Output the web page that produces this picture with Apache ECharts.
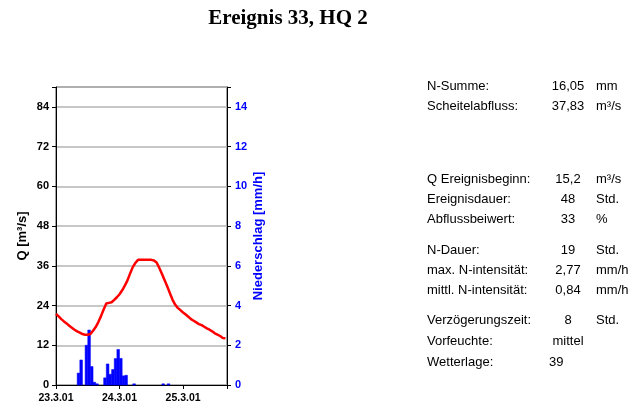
<!DOCTYPE html>
<html>
<head>
<meta charset="utf-8">
<script src="https://cdn.jsdelivr.net/npm/echarts@6/dist/echarts.min.js"></script>
<style>
html,body{margin:0;padding:0;background:#fff;}
#c{width:643px;height:413px;}
</style>
</head>
<body>
<div id="c"></div>
<script>
// ---- data ----
const titleText = 'Ereignis 33, HQ 2';
const dateLabels = ['23.3.01', '24.3.01', '25.3.01'];
const qTicks = [0, 12, 24, 36, 48, 60, 72, 84];
const nTicks = [0, 2, 4, 6, 8, 10, 12, 14];
// discharge Q [m³/s], hourly from 23.3.01 00:00
const qHours = [0,1,2,3,4,5,6,7,8,9,10,11,12,13,14,15,16,17,18,19,20,21,22,23,24,25,26,27,28,29,30,31,32,33,34,35,36,37,38,39,40,41,42,43,44,45,46,47,48,49,50,51,52,53,54,55,56,57,58,59,60,61,62,63,64];
const qValues = [21.5,20.7,19.9,19.2,18.6,17.9,17.3,16.7,16.2,15.8,15.4,15.2,15.2,15.4,16.4,17.5,19.0,20.8,22.8,24.6,24.8,25.0,25.7,26.5,27.4,28.6,30.0,31.6,33.7,35.6,36.9,37.8,37.8,37.8,37.8,37.8,37.8,37.6,37.0,35.4,33.6,31.7,29.8,27.8,25.8,24.3,23.3,22.6,21.9,21.3,20.6,19.9,19.4,18.9,18.4,18.1,17.6,17.1,16.7,16.2,15.6,15.2,14.8,14.2,14.1];
// precipitation [mm/h], hour of start (each bar covers one hour)
const nHours = [8,9,11,12,13,14,15,18,19,20,21,22,23,24,25,26,29,40,42];
const nValues = [0.60,1.26,2.00,2.77,0.93,0.14,0.06,0.36,1.06,0.54,0.78,1.33,1.79,1.34,0.46,0.49,0.06,0.06,0.06];
// info table
const infoLabels = ['N-Summe:','Scheitelabfluss:','Q Ereignisbeginn:','Ereignisdauer:','Abflussbeiwert:','N-Dauer:','max. N-intensität:','mittl. N-intensität:','Verzögerungszeit:','Vorfeuchte:','Wetterlage:'];
const infoValues = ['16,05','37,83','15,2','48','33','19','2,77','0,84','8','mittel','39'];
const infoUnits = ['mm','m³/s','m³/s','Std.','%','Std.','mm/h','mm/h','Std.','',''];

// ---- layout (not data) ----
const rowY = [86, 106.5, 179, 199, 219, 250.5, 270.5, 290.5, 320.5, 341.5, 362];
const font = '"Liberation Sans", Arial, sans-serif';

const graphics = [];
infoLabels.forEach((t, i) => {
  graphics.push({type:'text', x:427, y:rowY[i], style:{text:t, fill:'#000', font:'13px ' + font, textAlign:'left', textVerticalAlign:'middle'}});
  const last = i === infoLabels.length - 1;
  graphics.push({type:'text', x: last ? 549 : 568, y:rowY[i], style:{text:infoValues[i], fill:'#000', font:'13px ' + font, textAlign: last ? 'left' : 'center', textVerticalAlign:'middle'}});
  if (infoUnits[i]) graphics.push({type:'text', x:596, y:rowY[i], style:{text:infoUnits[i], fill:'#000', font:'13px ' + font, textAlign:'left', textVerticalAlign:'middle'}});
});

function renderHourBar(params, api) {
  const h = api.value(0), v = api.value(1);
  const p0 = api.coord([h, v]);
  const p1 = api.coord([h + 1, 0]);
  return {
    type:'rect',
    shape:{x:p0[0], y:p0[1], width:p1[0] - p0[0], height:p1[1] - p0[1]},
    style:{fill:'#0000ff', stroke:'#0000ff', lineWidth:0.5}
  };
}

const chart = echarts.init(document.getElementById('c'), null, {renderer:'canvas'});
chart.setOption({
  backgroundColor:'#fff',
  animation:false,
  title:{text:titleText, left:283, top:3, textAlign:'center',
    textStyle:{fontFamily:'"Liberation Serif", "Times New Roman", serif', fontWeight:'bold', fontSize:21, color:'#000'}},
  grid:{left:56, right:416, top:87, bottom:28, show:true, borderColor:'#444', borderWidth:1, backgroundColor:'transparent'},
  xAxis:{type:'value', min:0, max:64.6, interval:24,
    axisLine:{lineStyle:{color:'#000', width:1}},
    axisTick:{show:true, length:4, lineStyle:{color:'#000'}},
    splitLine:{show:false},
    axisLabel:{margin:8, color:'#000', fontFamily:font, fontWeight:'bold', fontSize:10.5,
      formatter:v => (v % 24 === 0 && dateLabels[v/24] !== undefined) ? dateLabels[v/24] : ''}},
  yAxis:[
    {type:'value', min:0, max:90, interval:12, position:'left',
      name:'Q [m³/s]', nameLocation:'middle', nameGap:27, nameRotate:90,
      nameTextStyle:{color:'#000', fontFamily:font, fontWeight:'bold', fontSize:13},
      axisLine:{show:true, lineStyle:{color:'#000', width:1}},
      axisTick:{show:true, length:4, lineStyle:{color:'#000'}},
      splitLine:{show:true, lineStyle:{color:'#b4b4b4', width:1.5}},
      axisLabel:{margin:7, color:'#000', fontFamily:font, fontWeight:'bold', fontSize:11,
        formatter:v => qTicks.indexOf(v) >= 0 ? String(v) : ''}},
    {type:'value', min:0, max:15, interval:2, position:'right',
      name:'Niederschlag [mm/h]', nameLocation:'middle', nameGap:25, nameRotate:90,
      nameTextStyle:{color:'#0000ff', fontFamily:font, fontWeight:'bold', fontSize:13},
      axisLine:{show:true, lineStyle:{color:'#000', width:1}},
      axisTick:{show:true, length:4, lineStyle:{color:'#000'}},
      splitLine:{show:false},
      axisLabel:{margin:8, color:'#0000ff', fontFamily:font, fontWeight:'bold', fontSize:11,
        formatter:v => nTicks.indexOf(v) >= 0 ? String(v) : ''}}
  ],
  series:[
    {type:'custom', yAxisIndex:1, z:2, renderItem:renderHourBar,
      encode:{x:0, y:1},
      data:nHours.map((h, i) => [h, nValues[i]])},
    {type:'line', yAxisIndex:0, showSymbol:false, symbol:'none', z:3,
      lineStyle:{color:'#ff0000', width:2.5},
      data:qHours.map((h, i) => [h, qValues[i]])}
  ],
  graphic:graphics
});
</script>
</body>
</html>
